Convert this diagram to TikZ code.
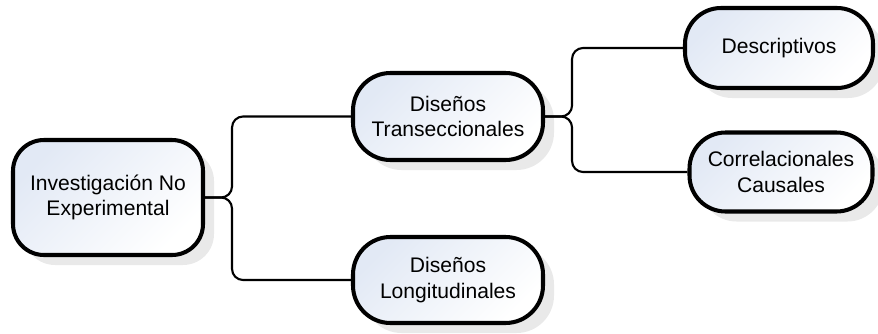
\documentclass[tikz,border=0pt]{standalone}
\usepackage{fontspec}
\setmainfont{Liberation Sans}
\usetikzlibrary{shadows}
\definecolor{boxtint}{RGB}{226,233,245}

\begin{document}
\begin{tikzpicture}[
    box/.style={draw=black, line width=2.3pt, align=center,
        top color=boxtint, bottom color=white, shading angle=45,
        font=\fontsize{12}{14.7}\selectfont, inner sep=2pt,
        drop shadow={fill=black!14, opacity=0.6, shadow xshift=0.22cm, shadow yshift=-0.2cm}},
    link/.style={line width=1.2pt, rounded corners=0.22cm}
]
    \useasboundingbox (0,0) rectangle (17.56,6.66);

    % Draw the boxes
    \node[box, rounded corners=0.62cm, minimum width=3.8cm, minimum height=2.3cm]
        (root) at (2.16,2.71) {Investigación No\\Experimental};
    \node[box, rounded corners=0.75cm, minimum width=3.8cm, minimum height=1.74cm]
        (trans) at (8.96,4.33) {Diseños\\Transeccionales};
    \node[box, rounded corners=0.75cm, minimum width=3.8cm, minimum height=1.72cm]
        (longi) at (8.96,1.06) {Diseños\\Longitudinales};
    \node[box, rounded corners=0.72cm, minimum width=3.76cm, minimum height=1.6cm]
        (desc) at (15.58,5.70) {Descriptivos};
    \node[box, rounded corners=0.72cm, minimum width=3.66cm, minimum height=1.58cm]
        (corr) at (15.62,3.22) {Correlacionales\\Causales};

    % Draw the fork points
    \coordinate (forkA) at ([xshift=0.54cm]root.east);
    \coordinate (forkB) at ([xshift=0.54cm]trans.east);

    % Draw the connectors
    \draw[link] (root.east) -- (forkA) |- (trans.west);
    \draw[link] (root.east) -- (forkA) |- (longi.west);
    \draw[link] (trans.east) -- (forkB) |- (desc.west);
    \draw[link] (trans.east) -- (forkB) |- (corr.west);
\end{tikzpicture}
\end{document}
